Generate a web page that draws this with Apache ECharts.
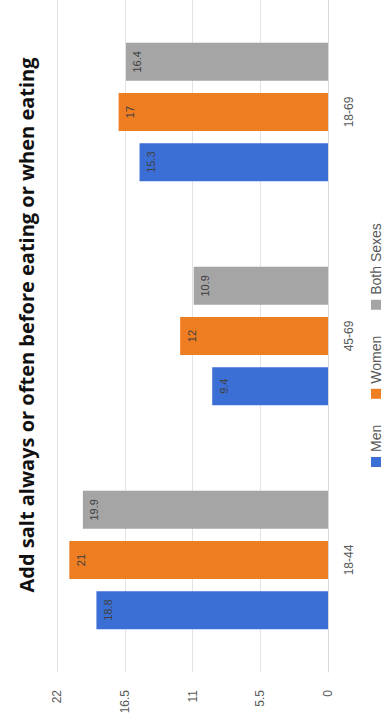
<!DOCTYPE html>
<html>
<head>
<meta charset="utf-8">
<script src="https://cdn.jsdelivr.net/npm/echarts@6/dist/echarts.min.js"></script>
<style>
  html, body { margin: 0; padding: 0; width: 388px; height: 727px; overflow: hidden; background: #ffffff; }
  #chart { position: absolute; left: 0; top: 0; width: 727px; height: 388px;
           transform-origin: 0 0; transform: translate(0, 727px) rotate(-90deg); }
</style>
</head>
<body>
<div id="chart"></div>
<script>
const title = 'Add salt always or often before eating or when eating';
const categories = ['18-44', '45-69', '18-69'];
const seriesNames = ['Men', 'Women', 'Both Sexes'];
const men = [18.8, 9.4, 15.3];
const women = [21, 12, 17];
const bothSexes = [19.9, 10.9, 16.4];
const valueTicks = [0, 5.5, 11, 16.5, 22];

const colors = ['#3C6FD6', '#EF7D22', '#A5A5A5'];
const font = 'Liberation Sans';

const chart = echarts.init(document.getElementById('chart'), null, { renderer: 'svg' });

function barSeries(name, data, color) {
  return {
    name: name,
    type: 'bar',
    data: data,
    barWidth: 38,
    barGap: '32%',
    itemStyle: { color: color },
    label: {
      show: true,
      position: 'insideTop',
      distance: 6,
      color: '#404040',
      fontSize: 11,
      fontFamily: font
    }
  };
}

chart.setOption({
  backgroundColor: '#ffffff',
  animation: false,
  color: colors,
  title: {
    text: title,
    left: 397,
    textAlign: 'center',
    top: 11,
    textStyle: { fontFamily: 'Open Sans', fontWeight: 'bold', fontSize: 20, color: '#111111' }
  },
  legend: {
    data: seriesNames,
    left: 255,
    top: 364,
    itemWidth: 10,
    itemHeight: 10,
    itemGap: 26,
    icon: 'rect',
    textStyle: { fontFamily: font, fontSize: 14, color: '#595959' }
  },
  grid: { left: 55, top: 57, width: 678, height: 271, containLabel: false },
  xAxis: {
    type: 'category',
    data: categories,
    axisLine: { lineStyle: { color: '#d9d9d9' } },
    axisTick: { show: false },
    axisLabel: { color: '#595959', fontSize: 12, fontFamily: font, margin: 15 }
  },
  yAxis: {
    type: 'value',
    min: valueTicks[0],
    max: valueTicks[valueTicks.length - 1],
    interval: valueTicks[1] - valueTicks[0],
    axisLine: { show: false },
    axisTick: { show: false },
    splitLine: { lineStyle: { color: '#e3e3e3' } },
    axisLabel: { color: '#595959', fontSize: 12, fontFamily: font, margin: 18 }
  },
  series: [
    barSeries(seriesNames[0], men, colors[0]),
    barSeries(seriesNames[1], women, colors[1]),
    barSeries(seriesNames[2], bothSexes, colors[2])
  ]
});
</script>
</body>
</html>
